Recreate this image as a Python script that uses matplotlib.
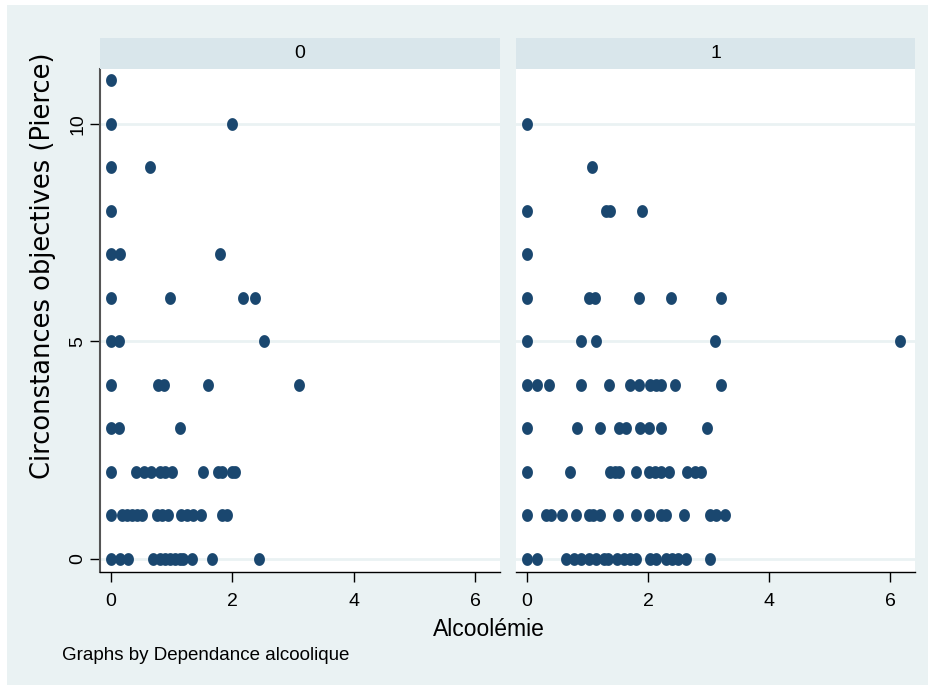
import numpy as np
import matplotlib
matplotlib.use("Agg")
import matplotlib.pyplot as plt
from matplotlib.patches import Rectangle

# group 0 (Dependance alcoolique = 0)
x0 = [0,
      0, 2.0,
      0, 0.65,
      0,
      0, 0.15, 1.8,
      0, 0.97, 2.18, 2.38,
      0, 0.13, 2.52,
      0, 0.78, 0.87, 1.6, 3.1,
      0, 0.13, 1.14,
      0, 0.41, 0.54, 0.66, 0.81, 0.89, 1.0, 1.52, 1.76, 1.83, 2.0, 2.04,
      0, 0.18, 0.26, 0.35, 0.43, 0.51, 0.76, 0.84, 0.94, 1.15, 1.25, 1.35, 1.48, 1.83, 1.91,
      0, 0.15, 0.28, 0.69, 0.81, 0.89, 0.97, 1.05, 1.14, 1.19, 1.33, 1.66, 2.44]
y0 = [11,
      10, 10,
      9, 9,
      8,
      7, 7, 7,
      6, 6, 6, 6,
      5, 5, 5,
      4, 4, 4, 4, 4,
      3, 3, 3,
      2, 2, 2, 2, 2, 2, 2, 2, 2, 2, 2, 2,
      1, 1, 1, 1, 1, 1, 1, 1, 1, 1, 1, 1, 1, 1, 1,
      0, 0, 0, 0, 0, 0, 0, 0, 0, 0, 0, 0, 0]

# group 1 (Dependance alcoolique = 1)
x1 = [0,
      1.07,
      0, 1.3, 1.38, 1.9,
      0,
      0, 1.02, 1.12, 1.85, 2.38, 3.2,
      0, 0.89, 1.14, 3.1, 6.16,
      0, 0.16, 0.36, 0.89, 1.35, 1.71, 1.85, 2.04, 2.14, 2.22, 2.44, 3.21,
      0, 0.82, 1.2, 1.52, 1.63, 1.86, 2.01, 2.22, 2.98,
      0, 0.71, 1.38, 1.45, 1.52, 1.8, 2.01, 2.12, 2.22, 2.34, 2.64, 2.78, 2.88,
      0, 0.31, 0.4, 0.58, 0.81, 1.02, 1.1, 1.2, 1.5, 1.81, 2.01, 2.21, 2.29, 2.6, 3.03, 3.13, 3.28,
      0, 0.16, 0.64, 0.77, 0.89, 1.02, 1.14, 1.27, 1.34, 1.48, 1.6, 1.71, 1.8,
      2.04, 2.14, 2.29, 2.39, 2.5, 2.62, 3.03]
y1 = [10,
      9,
      8, 8, 8, 8,
      7,
      6, 6, 6, 6, 6, 6,
      5, 5, 5, 5, 5,
      4, 4, 4, 4, 4, 4, 4, 4, 4, 4, 4, 4,
      3, 3, 3, 3, 3, 3, 3, 3, 3,
      2, 2, 2, 2, 2, 2, 2, 2, 2, 2, 2, 2, 2,
      1, 1, 1, 1, 1, 1, 1, 1, 1, 1, 1, 1, 1, 1, 1, 1, 1,
      0, 0, 0, 0, 0, 0, 0, 0, 0, 0, 0, 0, 0,
      0, 0, 0, 0, 0, 0, 0]

groups = ["0", "1"]
xticks = [0, 2, 4, 6]
yticks = [0, 5, 10]

bg = "#eaf2f3"
strip_col = "#d9e6eb"
navy = "#1a476f"

plt.rcParams["font.family"] = ["Liberation Sans", "DejaVu Sans"]

fig = plt.figure(figsize=(9.36, 6.9), dpi=100)
fig.patch.set_facecolor("white")
fig.patches.append(Rectangle((7 / 936, 5 / 690), 921 / 936, 680 / 690,
                             transform=fig.transFigure, facecolor=bg,
                             edgecolor="none", zorder=-10))

# slightly tall ellipse marker like the Stata output
t = np.linspace(0, 2 * np.pi, 40)
ell = np.column_stack([0.85 * np.cos(t), np.sin(t)])

W, H = 936, 690
panels = [(100, 500), (516, 915)]
top, bottom = 69, 572
data = [(x0, y0), (x1, y1)]

for i, ((l, r), (xs, ys)) in enumerate(zip(panels, data)):
    ax = fig.add_axes([l / W, 1 - bottom / H, (r - l) / W, (bottom - top) / H])
    ax.set_facecolor("white")
    ax.set_xlim(-0.18, 6.41)
    ax.set_ylim(-0.3, 11.26)
    for y in yticks:
        ax.axhline(y, color=bg, lw=2, zorder=1)
    ax.scatter(xs, ys, s=85, marker=ell, color=navy, linewidths=0, zorder=3)
    for s in ["top", "right"]:
        ax.spines[s].set_visible(False)
    ax.spines["bottom"].set_color("black")
    ax.spines["bottom"].set_linewidth(1)
    ax.set_xticks(xticks)
    ax.set_xticklabels([str(v) for v in xticks])
    ax.tick_params(axis="x", length=7, width=1, labelsize=14, pad=8)
    if i == 0:
        ax.spines["left"].set_color("#555555")
        ax.spines["left"].set_linewidth(1.5)
        ax.set_yticks(yticks)
        ax.set_yticklabels([str(v) for v in yticks], rotation=90, va="center")
        ax.tick_params(axis="y", length=7, width=1, labelsize=14, pad=3)
    else:
        ax.spines["left"].set_visible(False)
        ax.set_yticks([])
    # strip title
    sax = fig.add_axes([l / W, 1 - top / H, (r - l) / W, 31 / H])
    sax.set_facecolor(strip_col)
    sax.set_xticks([])
    sax.set_yticks([])
    for s in sax.spines.values():
        s.set_visible(False)
    sax.text(0.5, 0.5, groups[i], ha="center", va="center", fontsize=14,
             transform=sax.transAxes)

fig.text(43 / W, 1 - 266 / H, "Circonstances objectives (Pierce)", rotation=90,
         ha="center", va="center", fontsize=18.5, family=["DejaVu Sans"])
fig.text(489 / W, 1 - 630 / H, "Alcoolémie", ha="center", va="center", fontsize=16.5)
fig.text(62 / W, 1 - 656 / H, "Graphs by Dependance alcoolique", ha="left",
         va="center", fontsize=13.5)

fig.savefig("out.png", dpi=100, facecolor=fig.get_facecolor())
